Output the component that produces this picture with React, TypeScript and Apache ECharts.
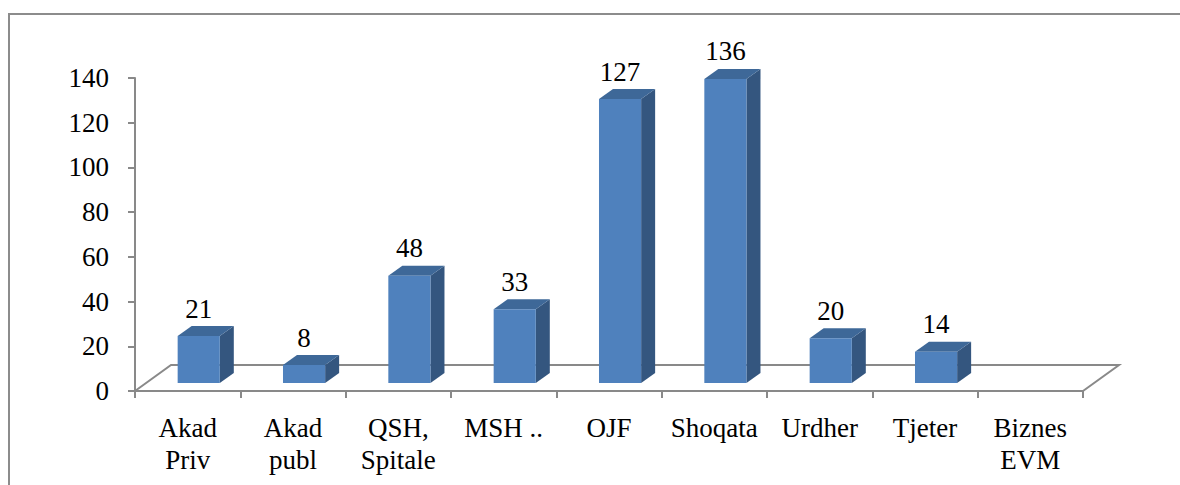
import React, { useEffect, useRef } from "react";
import * as echarts from "echarts";

const categories = [
  "Akad\nPriv",
  "Akad\npubl",
  "QSH,\nSpitale",
  "MSH ..",
  "OJF",
  "Shoqata",
  "Urdher",
  "Tjeter",
  "Biznes\nEVM",
];
const values: (number | null)[] = [21, 8, 48, 33, 127, 136, 20, 14, null];
const yMin = 0;
const yMax = 140;
const yInterval = 20;

const FONT = "Liberation Serif";
const GRID_LINE = "#898989";
const FRONT = "#4F81BD";
const SIDE = "#34567F";
const TOP = "#3E6898";

export default function App() {
  const ref = useRef<HTMLDivElement>(null);
  useEffect(() => {
    if (!ref.current) return;
    const chart = echarts.init(ref.current, null, { renderer: "svg" });

    const barData = categories.map((c, i) => [i, values[i] == null ? NaN : values[i]]);

    const option: any = {
      animation: false,
      backgroundColor: "#ffffff",
      textStyle: { fontFamily: FONT },
      graphic: [
        {
          type: "rect",
          shape: { x: 9, y: 14, width: 1300, height: 600 },
          style: { fill: "none", stroke: "#8c8c8c", lineWidth: 2 },
          silent: true,
          z: -10,
        },
      ],
      grid: { left: 135, right: 97, top: 78, bottom: 94 },
      xAxis: {
        type: "category",
        data: categories,
        axisLine: { show: true, lineStyle: { color: GRID_LINE, width: 2 } },
        axisTick: { show: true, length: 7, lineStyle: { color: GRID_LINE, width: 2 } },
        axisLabel: {
          interval: 0,
          color: "#000",
          fontFamily: FONT,
          fontSize: 27,
          lineHeight: 32,
          margin: 21,
        },
        splitLine: { show: false },
      },
      yAxis: {
        type: "value",
        min: yMin,
        max: yMax,
        interval: yInterval,
        axisLine: { show: true, lineStyle: { color: GRID_LINE, width: 2 } },
        axisTick: { show: true, length: 7, lineStyle: { color: GRID_LINE, width: 2 } },
        axisLabel: { color: "#000", fontFamily: FONT, fontSize: 27, margin: 26 },
        splitLine: { show: false },
      },
      series: [
        {
          type: "custom",
          z: 1,
          data: [[0, 0]],
          encode: { x: 0, y: 1 },
          silent: true,
          renderItem: (params: any, api: any) => {
            const cs = params.coordSys;
            const bw = api.size([1, 0])[0];
            const dx = bw * 0.342;
            const dy = -26;
            const L = cs.x;
            const R = cs.x + cs.width;
            const B = cs.y + cs.height;
            return {
              type: "polyline",
              shape: {
                points: [
                  [L, B],
                  [L + dx, B + dy],
                  [R + dx, B + dy],
                  [R, B],
                ],
              },
              style: { stroke: GRID_LINE, lineWidth: 2, fill: "none" },
            };
          },
        },
        {
          type: "custom",
          z: 2,
          data: barData,
          encode: { x: 0, y: 1 },
          renderItem: (params: any, api: any) => {
            const i = api.value(0);
            const v = api.value(1);
            if (v == null || isNaN(v)) return null;
            const base = api.coord([i, 0]);
            const top = api.coord([i, v]);
            const bw = api.size([1, 0])[0];
            const w = bw * 0.4;
            const ddx = bw * 0.133;
            const ddy = -10;
            const fx = bw * 0.105;
            const fy = -8;
            const x0 = base[0] + fx - w / 2;
            const x1 = x0 + w;
            const yb = base[1] + fy;
            const yt = top[1] + fy;
            return {
              type: "group",
              children: [
                {
                  type: "polygon",
                  shape: { points: [[x1, yt], [x1 + ddx, yt + ddy], [x1 + ddx, yb + ddy], [x1, yb]] },
                  style: { fill: SIDE },
                },
                {
                  type: "polygon",
                  shape: { points: [[x0, yt], [x1, yt], [x1 + ddx, yt + ddy], [x0 + ddx, yt + ddy]] },
                  style: { fill: TOP },
                },
                {
                  type: "rect",
                  shape: { x: x0, y: yt, width: w, height: yb - yt },
                  style: { fill: FRONT },
                },
                {
                  type: "text",
                  x: x0 + w / 2,
                  y: yt + ddy - 4,
                  style: {
                    text: String(v),
                    fill: "#000",
                    fontFamily: FONT,
                    fontSize: 27,
                    align: "center",
                    verticalAlign: "bottom",
                  },
                },
              ],
            };
          },
        },
      ],
    };
    chart.setOption(option);
    return () => chart.dispose();
  }, []);
  return (
    <div
      ref={ref}
      style={{ position: "fixed", left: 0, top: 0, width: 1180, height: 485 }}
    />
  );
}
